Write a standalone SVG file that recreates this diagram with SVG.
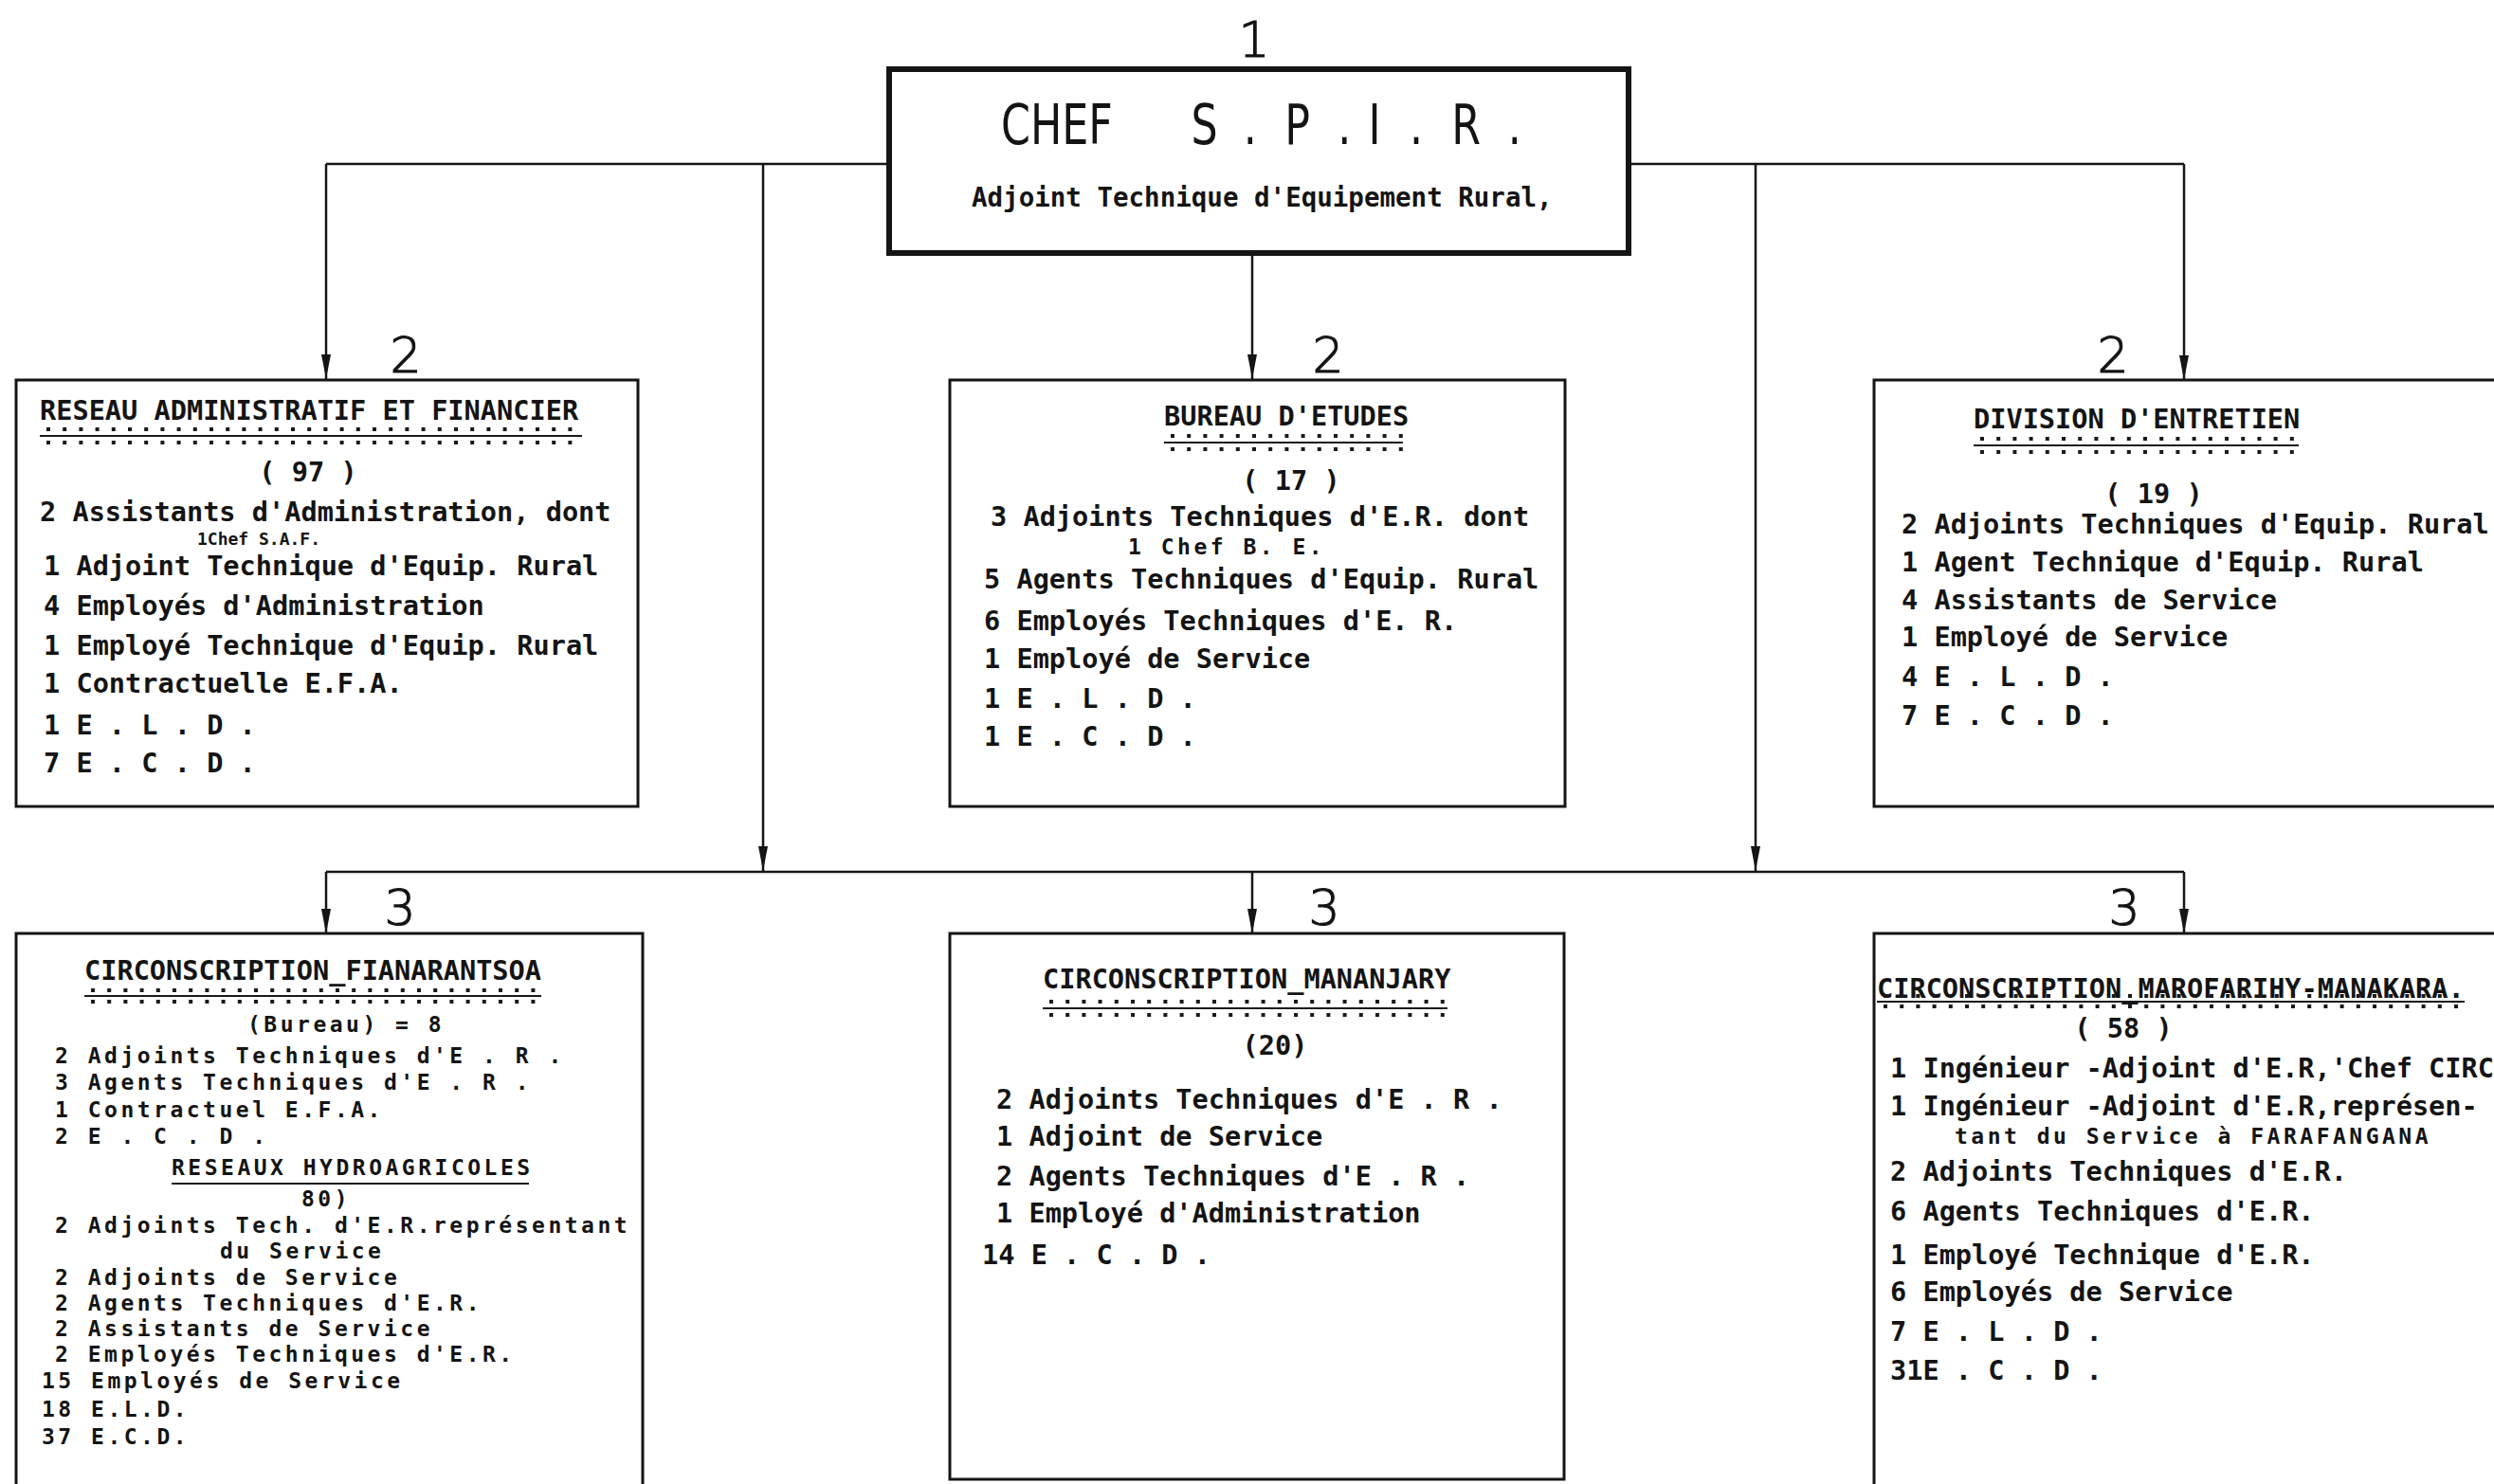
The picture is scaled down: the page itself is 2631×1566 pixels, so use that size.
<svg xmlns="http://www.w3.org/2000/svg" width="2631" height="1566" viewBox="0 0 2631 1566" xml:space="preserve">
<style>
.bg{fill:#ffffff}
.box{fill:none;stroke:#151515;stroke-width:3}
.boxb{fill:none;stroke:#151515;stroke-width:6}
.ln{fill:none;stroke:#151515;stroke-width:2.5}
.t{font-family:"DejaVu Sans Mono","Liberation Mono",monospace;font-size:28.6px;font-weight:bold;fill:#141414}
.tt{font-family:"DejaVu Sans Mono","Liberation Mono",monospace;font-size:23px;letter-spacing:3.5px;font-weight:bold;fill:#141414}
.ts{font-family:"DejaVu Sans Mono","Liberation Mono",monospace;font-size:18px;font-weight:bold;fill:#141414}
.num{font-family:"DejaVu Sans","Liberation Sans",sans-serif;font-weight:200;font-size:52px;fill:#141414;stroke:#141414;stroke-width:1.2}
.chef{font-family:"DejaVu Sans Condensed","DejaVu Sans","Liberation Sans",sans-serif;font-weight:normal;font-size:58px;fill:#141414}
.rule{stroke:#1a1a1a;stroke-width:2}
.dots{stroke:#1a1a1a;stroke-width:4;stroke-dasharray:4 13.2}
</style>
<defs>
<marker id="arr" markerUnits="userSpaceOnUse" markerWidth="26" markerHeight="10" refX="26" refY="5" orient="auto">
<path d="M0,0 L26,5 L0,10 z" fill="#151515"/>
</marker>
</defs>
<rect class="bg" x="0" y="0" width="2631" height="1566"/>

<g id="connectors">
<line class="ln" x1="344" y1="173" x2="938" y2="173"/>
<line class="ln" x1="1720" y1="173" x2="2304" y2="173"/>
<line class="ln" x1="344" y1="173" x2="344" y2="400" marker-end="url(#arr)"/>
<line class="ln" x1="805" y1="173" x2="805" y2="919" marker-end="url(#arr)"/>
<line class="ln" x1="1852" y1="173" x2="1852" y2="919" marker-end="url(#arr)"/>
<line class="ln" x1="2304" y1="173" x2="2304" y2="401" marker-end="url(#arr)"/>
<line class="ln" x1="1321" y1="268" x2="1321" y2="400" marker-end="url(#arr)"/>
<line class="ln" x1="344" y1="920" x2="2304" y2="920"/>
<line class="ln" x1="344" y1="920" x2="344" y2="985" marker-end="url(#arr)"/>
<line class="ln" x1="1321" y1="920" x2="1321" y2="985" marker-end="url(#arr)"/>
<line class="ln" x1="2304" y1="920" x2="2304" y2="985" marker-end="url(#arr)"/>
</g>

<g id="labels">
<text class="num" x="1323" y="60" text-anchor="middle">1</text>
<text class="num" x="428" y="393" text-anchor="middle">2</text>
<text class="num" x="1401" y="393" text-anchor="middle">2</text>
<text class="num" x="2229" y="393" text-anchor="middle">2</text>
<text class="num" x="422" y="976" text-anchor="middle">3</text>
<text class="num" x="1397" y="976" text-anchor="middle">3</text>
<text class="num" x="2241" y="976" text-anchor="middle">3</text>
</g>

<g id="node-chef">
<rect class="boxb" x="938" y="73" width="780" height="194"/>
<text class="chef" transform="translate(1056 152) scale(0.85 1)"><tspan x="0">CHEF</tspan><tspan x="236">S</tspan><tspan x="301">.</tspan><tspan x="352">P</tspan><tspan x="418">.</tspan><tspan x="456">I</tspan><tspan x="507">.</tspan><tspan x="559">R</tspan><tspan x="629">.</tspan></text>
<text class="t" x="1025" y="218" style="font-size:27.5px">Adjoint Technique d'Equipement Rural,</text>
</g>

<g id="node-reseau-admin">
<rect class="box" x="17" y="401" width="656" height="450"/>
<text class="t" x="42" y="443">RESEAU ADMINISTRATIF ET FINANCIER</text>
<line class="rule" x1="42" y1="460" x2="614" y2="460"/>
<line class="dots" x1="49" y1="453" x2="614" y2="453"/>
<line class="dots" x1="49" y1="467" x2="614" y2="467"/>
<text class="t" x="325" y="508" text-anchor="middle">( 97 )</text>
<text class="t" x="42" y="550">2 Assistants d'Administration, dont</text>
<text class="ts" x="208" y="575">1Chef S.A.F.</text>
<text class="t" x="46" y="607">1 Adjoint Technique d'Equip. Rural</text>
<text class="t" x="46" y="649">4 Employés d'Administration</text>
<text class="t" x="46" y="691">1 Employé Technique d'Equip. Rural</text>
<text class="t" x="46" y="731">1 Contractuelle  E.F.A.</text>
<text class="t" x="46" y="775">1 E . L . D .</text>
<text class="t" x="46" y="815">7 E . C . D .</text>
</g>

<g id="node-bureau-etudes">
<rect class="box" x="1002" y="401" width="649" height="450"/>
<text class="t" x="1228" y="449">BUREAU D'ETUDES</text>
<line class="rule" x1="1228" y1="467" x2="1480" y2="467"/>
<line class="dots" x1="1235" y1="460" x2="1480" y2="460"/>
<line class="dots" x1="1235" y1="474" x2="1480" y2="474"/>
<text class="t" x="1362" y="517" text-anchor="middle">( 17 )</text>
<text class="t" x="1045" y="555">3 Adjoints Techniques d'E.R. dont</text>
<text class="tt" x="1190" y="585">1 Chef B. E.</text>
<text class="t" x="1038" y="621">5 Agents Techniques d'Equip. Rural</text>
<text class="t" x="1038" y="665">6 Employés Techniques d'E. R.</text>
<text class="t" x="1038" y="705">1 Employé de Service</text>
<text class="t" x="1038" y="747">1 E . L . D .</text>
<text class="t" x="1038" y="787">1 E . C . D .</text>
</g>

<g id="node-division-entretien">
<rect class="box" x="1977" y="401" width="700" height="450"/>
<text class="t" x="2082" y="452">DIVISION D'ENTRETIEN</text>
<line class="rule" x1="2082" y1="470" x2="2425" y2="470"/>
<line class="dots" x1="2089" y1="463" x2="2425" y2="463"/>
<line class="dots" x1="2089" y1="477" x2="2425" y2="477"/>
<text class="t" x="2272" y="531" text-anchor="middle">( 19 )</text>
<text class="t" x="2006" y="563">2 Adjoints Techniques d'Equip. Rural</text>
<text class="t" x="2006" y="603">1 Agent Technique d'Equip. Rural</text>
<text class="t" x="2006" y="643">4 Assistants de Service</text>
<text class="t" x="2006" y="682">1 Employé de Service</text>
<text class="t" x="2006" y="724">4 E . L . D .</text>
<text class="t" x="2006" y="765">7 E . C . D .</text>
</g>

<g id="node-circ-fianarantsoa">
<rect class="box" x="17" y="985" width="661" height="620"/>
<text class="t" x="89" y="1034">CIRCONSCRIPTION_FIANARANTSOA</text>
<line class="rule" x1="89" y1="1051" x2="571" y2="1051"/>
<line class="dots" x1="96" y1="1045" x2="571" y2="1045"/>
<line class="dots" x1="96" y1="1057" x2="571" y2="1057"/>
<text class="tt" x="261" y="1089">(Bureau) = 8</text>
<text class="tt" x="58" y="1122">2 Adjoints Techniques d'E . R .</text>
<text class="tt" x="58" y="1150">3 Agents Techniques d'E . R .</text>
<text class="tt" x="58" y="1179">1 Contractuel E.F.A.</text>
<text class="tt" x="58" y="1207">2 E . C . D .</text>
<text class="tt" x="181" y="1240">RESEAUX HYDROAGRICOLES</text>
<line class="rule" x1="181" y1="1249" x2="558" y2="1249"/>
<text class="tt" x="318" y="1273">80)</text>
<text class="tt" x="58" y="1301">2 Adjoints Tech. d'E.R.représentant</text>
<text class="tt" x="232" y="1328">du Service</text>
<text class="tt" x="58" y="1356">2 Adjoints de Service</text>
<text class="tt" x="58" y="1383">2 Agents Techniques d'E.R.</text>
<text class="tt" x="58" y="1410">2 Assistants de Service</text>
<text class="tt" x="58" y="1437">2 Employés Techniques d'E.R.</text>
<text class="tt" x="44" y="1465">15 Employés de Service</text>
<text class="tt" x="44" y="1495">18 E.L.D.</text>
<text class="tt" x="44" y="1524">37 E.C.D.</text>
</g>

<g id="node-circ-mananjary">
<rect class="box" x="1002" y="985" width="648" height="576"/>
<text class="t" x="1100" y="1043">CIRCONSCRIPTION_MANANJARY</text>
<line class="rule" x1="1100" y1="1064" x2="1527" y2="1064"/>
<line class="dots" x1="1107" y1="1057" x2="1527" y2="1057"/>
<line class="dots" x1="1107" y1="1071" x2="1527" y2="1071"/>
<text class="t" x="1345" y="1113" text-anchor="middle">(20)</text>
<text class="t" x="1051" y="1170">2 Adjoints Techniques d'E . R .</text>
<text class="t" x="1051" y="1209">1 Adjoint de Service</text>
<text class="t" x="1051" y="1251">2 Agents Techniques d'E . R .</text>
<text class="t" x="1051" y="1290">1 Employé d'Administration</text>
<text class="t" x="1036" y="1334">14 E . C . D .</text>
</g>

<g id="node-circ-marofarihy">
<rect class="box" x="1977" y="985" width="700" height="620"/>
<text class="t" x="1980" y="1053">CIRCONSCRIPTION_MAROFARIHY-MANAKARA.</text>
<line class="rule" x1="1980" y1="1057" x2="2600" y2="1057"/>
<line class="dots" x1="1987" y1="1051" x2="2600" y2="1051"/>
<line class="dots" x1="1987" y1="1062" x2="2600" y2="1062"/>
<text class="t" x="2240" y="1095" text-anchor="middle">( 58 )</text>
<text class="t" x="1994" y="1137">1 Ingénieur -Adjoint d'E.R,'Chef CIRC</text>
<text class="t" x="1994" y="1177">1 Ingénieur -Adjoint d'E.R,représen-</text>
<text class="tt" x="2062" y="1207">tant du Service à FARAFANGANA</text>
<text class="t" x="1994" y="1246">2 Adjoints Techniques d'E.R.</text>
<text class="t" x="1994" y="1288">6 Agents Techniques d'E.R.</text>
<text class="t" x="1994" y="1334">1 Employé Technique d'E.R.</text>
<text class="t" x="1994" y="1373">6 Employés de Service</text>
<text class="t" x="1994" y="1415">7 E . L . D .</text>
<text class="t" x="1994" y="1456">31E . C . D .</text>
</g>
</svg>
